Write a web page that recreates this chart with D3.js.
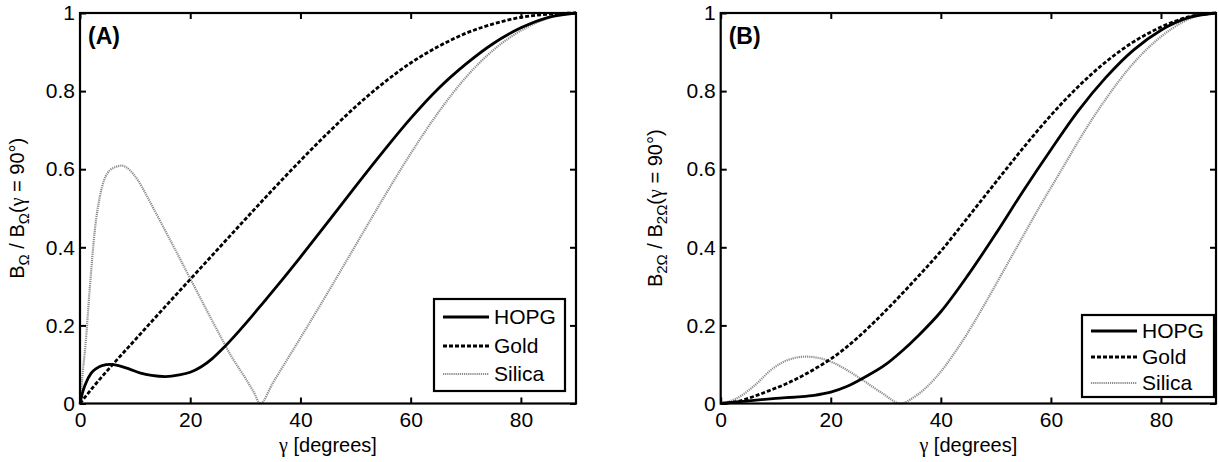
<!DOCTYPE html>
<html>
<head>
<meta charset="utf-8">
<script src="https://cdn.jsdelivr.net/npm/d3@7/dist/d3.min.js"></script>
<style>
  html, body { margin: 0; padding: 0; background: #fff; }
  svg { display: block; font-family: "Liberation Sans", Arial, sans-serif; }
</style>
</head>
<body>
<svg id="chart" width="1219" height="462"></svg>
<script>
// Normalised field amplitude vs. tilt angle gamma, for three substrates.
const xTicks = [0, 20, 40, 60, 80];
const yTicks = [0, 0.2, 0.4, 0.6, 0.8, 1];
const seriesNames = ["HOPG", "Gold", "Silica"];

// Panel A: first harmonic, [gamma (deg), B_Ω / B_Ω(90°)]
const hopgA = [[0,0],[0.5,0.03],[1,0.05],[2,0.077],[3,0.09],[4,0.097],[5.5,0.1],[7,0.097],[9,0.088],[11,0.078],[13,0.072],[15.5,0.069],[18,0.073],[20,0.08],[22,0.094],[24,0.115],[26,0.142],[28,0.172],[30,0.204],[33,0.254],[36,0.305],[40,0.375],[45,0.465],[50,0.556],[55,0.645],[60,0.73],[65,0.806],[70,0.869],[75,0.922],[80,0.962],[85,0.989],[90,1]];
const goldA = [[0,0],[2.5,0.044],[5,0.085],[10,0.163],[15,0.241],[20,0.318],[25,0.395],[30,0.472],[35,0.548],[40,0.622],[45,0.693],[50,0.76],[55,0.82],[60,0.872],[65,0.914],[70,0.948],[75,0.972],[80,0.989],[85,0.997],[90,1]];
const silicaA = [[0,0],[0.5,0.08],[1,0.15],[1.8,0.3],[2.7,0.445],[3.6,0.53],[5,0.59],[6.5,0.606],[7.6,0.609],[9,0.598],[10.5,0.572],[12,0.535],[13.5,0.495],[15,0.455],[17.5,0.388],[20,0.32],[22.5,0.252],[25,0.185],[27.5,0.12],[30,0.065],[31.5,0.03],[32.7,0],[35,0.053],[40,0.168],[45,0.285],[50,0.405],[55,0.525],[60,0.64],[65,0.745],[70,0.835],[75,0.905],[80,0.955],[85,0.987],[90,1]];

// Panel B: second harmonic, [gamma (deg), B_2Ω / B_2Ω(90°)]
const hopgB = [[0,0],[3,0.004],[6,0.008],[10,0.013],[14,0.017],[17,0.021],[20,0.029],[23,0.044],[26,0.066],[30,0.1],[33,0.135],[36,0.175],[40,0.235],[45,0.33],[50,0.435],[55,0.545],[60,0.65],[65,0.75],[70,0.835],[75,0.905],[80,0.956],[85,0.988],[90,1]];
const goldB = [[0,0],[3,0.005],[6,0.018],[9,0.034],[12,0.051],[15,0.072],[17.5,0.092],[20,0.114],[22.5,0.14],[25,0.17],[30,0.238],[35,0.312],[40,0.39],[45,0.478],[50,0.567],[55,0.655],[60,0.738],[65,0.812],[70,0.875],[75,0.926],[80,0.964],[85,0.99],[90,1]];
const silicaB = [[0,0],[2.9,0.013],[5.9,0.043],[9.5,0.09],[12.5,0.113],[15.5,0.12],[18,0.116],[20.4,0.105],[23,0.085],[25.8,0.06],[29.4,0.026],[32.7,0],[35,0.015],[39,0.065],[43,0.14],[48,0.255],[51,0.33],[54,0.405],[58,0.505],[62,0.6],[66,0.695],[70,0.78],[74,0.855],[78,0.915],[82,0.96],[86,0.99],[90,1]];

// Line styles per substrate
const styles = {
  HOPG:   { stroke: "#000",    width: 2.8, dash: null },
  Gold:   { stroke: "#000",    width: 2.8, dash: "4,2" },
  Silica: { stroke: "#8c8c8c", width: 2.2, dash: "1.2,0.9" }
};

const svg = d3.select("#chart");

const panels = [
  { tag: "(A)", sub: "Ω", left: 80, right: 576, titleX: 24,
    series: { HOPG: hopgA, Gold: goldA, Silica: silicaA },
    legend: { x0: 434, x1: 565, y0: 299, y1: 391, rows: [317, 346, 374] } },
  { tag: "(B)", sub: "2Ω", left: 720.7, right: 1216, titleX: 662,
    series: { HOPG: hopgB, Gold: goldB, Silica: silicaB },
    legend: { x0: 1082, x1: 1214, y0: 315, y1: 397, rows: [331, 357, 383] } }
];

const plotTop = 13, plotBottom = 403.5;

panels.forEach(p => {
  const x = d3.scaleLinear().domain([0, 90]).range([p.left, p.right]);
  const y = d3.scaleLinear().domain([0, 1]).range([plotBottom, plotTop]);
  const g = svg.append("g");

  // Curves
  const line = d3.line().x(d => x(d[0])).y(d => y(d[1])).curve(d3.curveMonotoneX);
  ["Silica", "Gold", "HOPG"].forEach(name => {
    const s = styles[name];
    g.append("path")
      .datum(p.series[name])
      .attr("d", line)
      .attr("fill", "none")
      .attr("stroke", s.stroke)
      .attr("stroke-width", s.width)
      .attr("stroke-dasharray", s.dash)
      .attr("stroke-linejoin", "round");
  });

  // Axes with inward ticks on all four sides
  const fmt = d => String(d);
  const axB = g.append("g").attr("transform", `translate(0,${plotBottom})`)
    .call(d3.axisBottom(x).tickValues(xTicks).tickFormat(fmt).tickSizeInner(-6).tickSizeOuter(0).tickPadding(9));
  const axT = g.append("g").attr("transform", `translate(0,${plotTop})`)
    .call(d3.axisTop(x).tickValues(xTicks).tickFormat("").tickSizeInner(-6).tickSizeOuter(0));
  const axL = g.append("g").attr("transform", `translate(${p.left},0)`)
    .call(d3.axisLeft(y).tickValues(yTicks).tickFormat(fmt).tickSizeInner(-6).tickSizeOuter(0).tickPadding(5));
  const axR = g.append("g").attr("transform", `translate(${p.right},0)`)
    .call(d3.axisRight(y).tickValues(yTicks).tickFormat("").tickSizeInner(-6).tickSizeOuter(0));
  [axB, axT, axL, axR].forEach(a => {
    a.select(".domain").remove();
    a.selectAll(".tick line").attr("stroke", "#000").attr("stroke-width", 2);
    a.selectAll(".tick text").attr("fill", "#000").attr("font-size", 21)
      .attr("font-family", "'Liberation Sans', Arial, sans-serif");
  });
  axB.selectAll(".tick text").attr("dy", "0.71em");

  // Frame
  g.append("rect")
    .attr("x", p.left).attr("y", plotTop)
    .attr("width", p.right - p.left).attr("height", plotBottom - plotTop)
    .attr("fill", "none").attr("stroke", "#000").attr("stroke-width", 2.2);

  // Panel tag
  g.append("text").attr("x", p.left + 8).attr("y", 44)
    .attr("font-size", 23).attr("font-weight", "bold").text(p.tag);

  // X-axis title
  const xt = g.append("text").attr("x", (p.left + p.right) / 2).attr("y", 452)
    .attr("text-anchor", "middle").attr("font-size", 20);
  xt.append("tspan").attr("font-family", "'Liberation Serif', 'DejaVu Serif', serif").text("γ");
  xt.append("tspan").text(" [degrees]");

  // Y-axis title, rotated
  const yt = g.append("text")
    .attr("transform", `translate(${p.titleX},${(plotTop + plotBottom) / 2}) rotate(-90)`)
    .attr("text-anchor", "middle").attr("font-size", 20);
  yt.append("tspan").text("B");
  yt.append("tspan").attr("font-size", 15).attr("dy", 5).text(p.sub);
  yt.append("tspan").attr("dy", -5).text(" / B");
  yt.append("tspan").attr("font-size", 15).attr("dy", 5).text(p.sub);
  yt.append("tspan").attr("dy", -5).text("(");
  yt.append("tspan").attr("font-family", "'Liberation Serif', 'DejaVu Serif', serif").text("γ");
  yt.append("tspan").text(" = 90°)");

  // Legend
  const L = p.legend;
  const lg = g.append("g");
  lg.append("rect").attr("x", L.x0).attr("y", L.y0)
    .attr("width", L.x1 - L.x0).attr("height", L.y1 - L.y0)
    .attr("fill", "#fff").attr("stroke", "#000").attr("stroke-width", 2.2);
  seriesNames.forEach((name, i) => {
    const s = styles[name];
    const yy = L.rows[i];
    lg.append("line").attr("x1", L.x0 + 9).attr("x2", L.x0 + 55)
      .attr("y1", yy).attr("y2", yy)
      .attr("stroke", s.stroke).attr("stroke-width", s.width)
      .attr("stroke-dasharray", s.dash);
    lg.append("text").attr("x", L.x0 + 60).attr("y", yy + 7)
      .attr("font-size", 21).text(name);
  });
});
</script>
</body>
</html>
